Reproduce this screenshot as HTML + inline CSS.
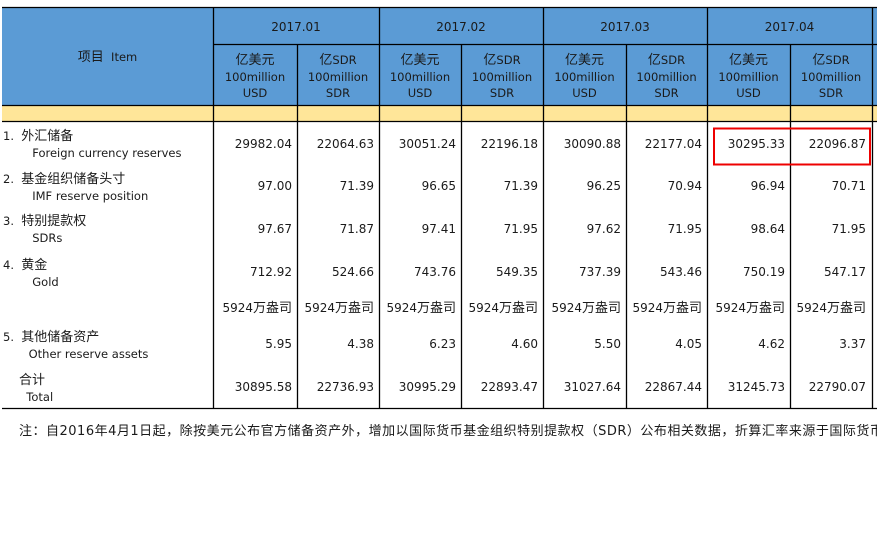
<!DOCTYPE html>
<html><head><meta charset="utf-8"><style>
body{margin:0;background:#fff;width:877px;height:535px;overflow:hidden;position:relative;font-family:"DejaVu Sans","Noto Sans CJK SC",sans-serif;color:#1a1a1a}
.a{position:absolute;font-size:12px;line-height:16px;white-space:nowrap}
.h{font-size:11.5px}
.k{font-size:13px}
.r{text-align:right}
.c{text-align:center}
</style></head><body>
<svg width="877" height="535" style="position:absolute;left:0;top:0">
<rect x="2" y="7" width="875" height="98" fill="#5b9bd5"/>
<rect x="2" y="105" width="875" height="16" fill="#ffe699"/>
<g stroke="#000" stroke-width="1.3">
<line x1="2" y1="7.5" x2="877" y2="7.5"/>
<line x1="213" y1="44.5" x2="877" y2="44.5"/>
<line x1="2" y1="105.5" x2="877" y2="105.5"/>
<line x1="2" y1="121.5" x2="877" y2="121.5"/>
<line x1="2" y1="408.5" x2="877" y2="408.5"/>
<line x1="213.5" y1="7" x2="213.5" y2="408"/>
<line x1="297.5" y1="44" x2="297.5" y2="408"/>
<line x1="379.5" y1="7" x2="379.5" y2="408"/>
<line x1="461.5" y1="44" x2="461.5" y2="408"/>
<line x1="543.5" y1="7" x2="543.5" y2="408"/>
<line x1="626.5" y1="44" x2="626.5" y2="408"/>
<line x1="707.5" y1="7" x2="707.5" y2="408"/>
<line x1="790.5" y1="44" x2="790.5" y2="408"/>
<line x1="872.5" y1="7" x2="872.5" y2="408"/>
</g>
<rect x="714" y="128.5" width="156" height="36" fill="none" stroke="#e00" stroke-width="2"/>
</svg>
<div class="a c h" style="left:2px;width:211px;top:49px"><span class="k">项目</span>&nbsp; Item</div>
<div class="a c" style="left:213px;width:166px;top:19px">2017.01</div>
<div class="a c" style="left:379px;width:164px;top:19px">2017.02</div>
<div class="a c" style="left:543px;width:164px;top:19px">2017.03</div>
<div class="a c" style="left:707px;width:165px;top:19px">2017.04</div>
<div class="a c h" style="left:213px;width:84px;top:52px"><span class="k">亿美元</span><br>100million<br>USD</div>
<div class="a c h" style="left:297px;width:82px;top:52px"><span class="k">亿</span>SDR<br>100million<br>SDR</div>
<div class="a c h" style="left:379px;width:82px;top:52px"><span class="k">亿美元</span><br>100million<br>USD</div>
<div class="a c h" style="left:461px;width:82px;top:52px"><span class="k">亿</span>SDR<br>100million<br>SDR</div>
<div class="a c h" style="left:543px;width:83px;top:52px"><span class="k">亿美元</span><br>100million<br>USD</div>
<div class="a c h" style="left:626px;width:81px;top:52px"><span class="k">亿</span>SDR<br>100million<br>SDR</div>
<div class="a c h" style="left:707px;width:83px;top:52px"><span class="k">亿美元</span><br>100million<br>USD</div>
<div class="a c h" style="left:790px;width:82px;top:52px"><span class="k">亿</span>SDR<br>100million<br>SDR</div>

<div class="a h" style="left:3px;top:128px">1.&nbsp; <span class="k">外汇储备</span><br>&nbsp;&nbsp;&nbsp;&nbsp;&nbsp;&nbsp;&nbsp; Foreign currency reserves</div>
<div class="a h" style="left:3px;top:171px">2.&nbsp; <span class="k">基金组织储备头寸</span><br>&nbsp;&nbsp;&nbsp;&nbsp;&nbsp;&nbsp;&nbsp; IMF reserve position</div>
<div class="a h" style="left:3px;top:213px">3.&nbsp; <span class="k">特别提款权</span><br>&nbsp;&nbsp;&nbsp;&nbsp;&nbsp;&nbsp;&nbsp; SDRs</div>
<div class="a h" style="left:3px;top:257px">4.&nbsp; <span class="k">黄金</span><br>&nbsp;&nbsp;&nbsp;&nbsp;&nbsp;&nbsp;&nbsp; Gold</div>
<div class="a h" style="left:3px;top:329px">5.&nbsp; <span class="k">其他储备资产</span><br>&nbsp;&nbsp;&nbsp;&nbsp;&nbsp;&nbsp; Other reserve assets</div>
<div class="a h" style="left:19px;top:372px"><span class="k">合计</span><br>&nbsp;&nbsp;Total</div>

<div id="d"></div>
<script>
var cols=[[213,292],[297,374],[379,456],[461,538],[543,621],[626,702],[707,785],[790,866]];
var rows=[[136,["29982.04","22064.63","30051.24","22196.18","30090.88","22177.04","30295.33","22096.87"]],
[178,["97.00","71.39","96.65","71.39","96.25","70.94","96.94","70.71"]],
[221,["97.67","71.87","97.41","71.95","97.62","71.95","98.64","71.95"]],
[264,["712.92","524.66","743.76","549.35","737.39","543.46","750.19","547.17"]],
[300,["5924<span class=k>万盎司</span>","5924<span class=k>万盎司</span>","5924<span class=k>万盎司</span>","5924<span class=k>万盎司</span>","5924<span class=k>万盎司</span>","5924<span class=k>万盎司</span>","5924<span class=k>万盎司</span>","5924<span class=k>万盎司</span>"]],
[336,["5.95","4.38","6.23","4.60","5.50","4.05","4.62","3.37"]],
[379,["30895.58","22736.93","30995.29","22893.47","31027.64","22867.44","31245.73","22790.07"]]];
var h="";
rows.forEach(function(r){r[1].forEach(function(v,i){var c=cols[i];h+='<div class="a r" style="left:'+c[0]+'px;width:'+(c[1]-c[0])+'px;top:'+r[0]+'px">'+v+'</div>';});});
document.getElementById("d").innerHTML=h;
</script>
<div class="a" style="left:19px;top:424px;width:858px;overflow:hidden;font-size:13px;letter-spacing:0.5px">注：自2016年4月1日起，除按美元公布官方储备资产外，增加以国际货币基金组织特别提款权（SDR）公布相关数据，折算汇率来源于国际货币基金组织。</div>
</body></html>
